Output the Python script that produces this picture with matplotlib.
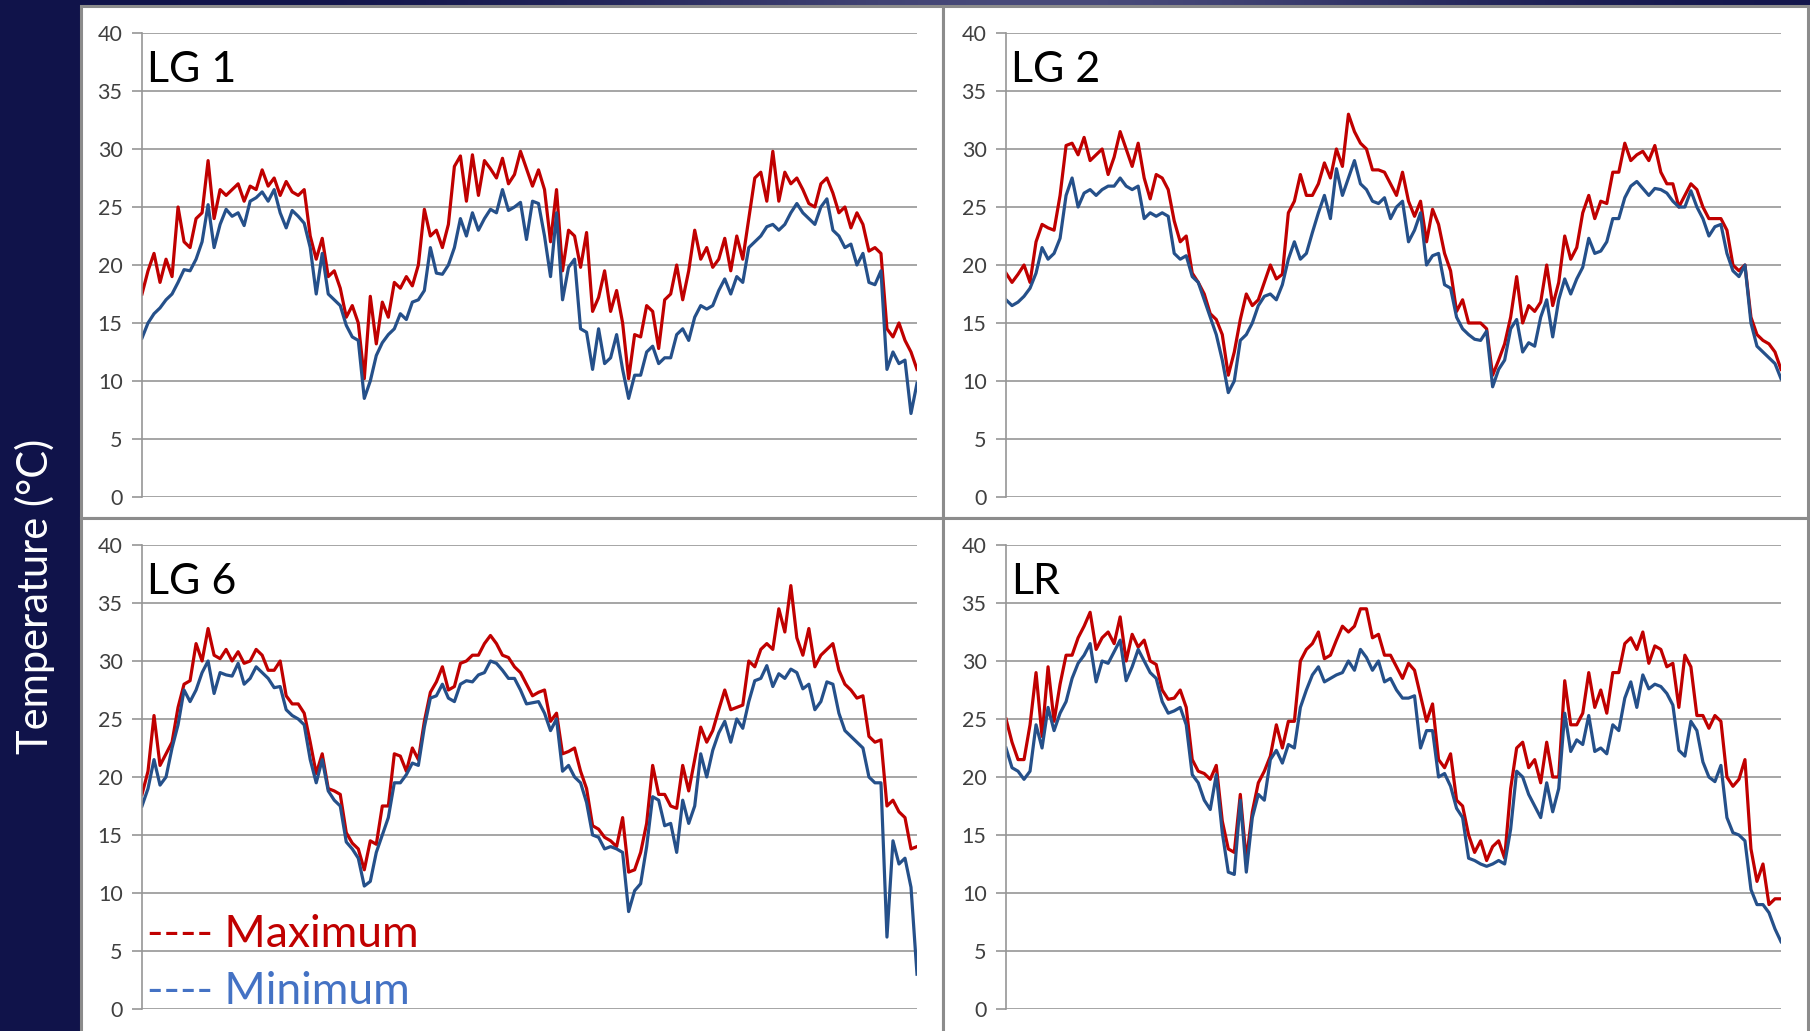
import numpy as np
import matplotlib
matplotlib.use("Agg")
import matplotlib.pyplot as plt
from matplotlib.patches import Rectangle

# daily maximum / minimum temperatures (°C) per site
lg1_max = [17.5, 19.5, 21, 18.5, 20.5, 19, 25, 22, 21.5, 24,
           24.5, 29, 24, 26.5, 26, 26.5, 27, 25.5, 26.8, 26.5,
           28.2, 26.8, 27.5, 26, 27.2, 26.3, 26, 26.5, 22.5, 20.5,
           22.3, 19, 19.5, 18, 15.5, 16.5, 15, 10.2, 17.3, 13.2,
           16.8, 15.5, 18.5, 18, 19, 18.2, 20, 24.8, 22.5, 23,
           21.5, 23.5, 28.5, 29.4, 25.5, 29.5, 26, 29, 28.3, 27.5,
           29.2, 27, 27.8, 29.8, 28.3, 26.8, 28.2, 26.5, 22, 26.5,
           19.5, 23, 22.5, 19.8, 22.8, 16, 17.2, 19.5, 16, 17.8,
           15, 10.2, 14, 13.8, 16.5, 16, 12.8, 17, 17.5, 20,
           17, 19.5, 23, 20.5, 21.5, 19.8, 20.5, 22.3, 19.5, 22.5,
           20.5, 24, 27.5, 28, 25.5, 29.8, 25.5, 28, 27, 27.5,
           26.5, 25.3, 25, 27, 27.5, 26.2, 24.5, 25, 23.2, 24.5,
           23.5, 21.2, 21.5, 21, 14.5, 13.8, 15, 13.5, 12.5, 11]
lg1_min = [13.7, 15, 15.8, 16.3, 17, 17.5, 18.5, 19.6, 19.5, 20.5,
           22, 25.2, 21.5, 23.5, 24.8, 24.2, 24.5, 23.4, 25.5, 25.8,
           26.3, 25.5, 26.5, 24.5, 23.2, 24.7, 24.2, 23.6, 21.5, 17.5,
           21, 17.5, 17, 16.5, 14.8, 13.8, 13.5, 8.5, 10, 12.2,
           13.3, 14, 14.5, 15.8, 15.3, 16.8, 17, 17.8, 21.5, 19.3,
           19.2, 20, 21.5, 24, 22.5, 24.5, 23, 24, 24.8, 24.5,
           26.5, 24.7, 25, 25.4, 22.2, 25.5, 25.3, 22.5, 19, 24.5,
           17, 19.8, 20.5, 14.5, 14.2, 11, 14.5, 11.5, 12, 14,
           11, 8.5, 10.5, 10.5, 12.5, 13, 11.5, 12, 12, 14,
           14.5, 13.5, 15.5, 16.5, 16.2, 16.5, 17.8, 18.8, 17.5, 19,
           18.5, 21.5, 22, 22.5, 23.3, 23.5, 23, 23.5, 24.5, 25.3,
           24.5, 24, 23.5, 25, 25.7, 23, 22.5, 21.5, 21.8, 20,
           21, 18.5, 18.3, 19.5, 11, 12.5, 11.5, 11.8, 7.2, 9.8]

lg2_max = [19.3, 18.5, 19.2, 20, 18.5, 22, 23.5, 23.2, 23, 26,
           30.3, 30.5, 29.5, 31, 29, 29.5, 30, 27.8, 29.3, 31.5,
           30, 28.5, 30.5, 27.5, 25.7, 27.8, 27.5, 26.5, 23.8, 22,
           22.5, 19.3, 18.5, 17.5, 15.8, 15.3, 14, 10.5, 12.5, 15.3,
           17.5, 16.5, 17, 18.5, 20, 18.8, 19.2, 24.5, 25.5, 27.8,
           26, 26, 27, 28.8, 27.5, 30, 28.5, 33, 31.5, 30.5,
           30, 28.2, 28.2, 28, 27, 26, 28, 25.5, 24.2, 25.5,
           22, 24.8, 23.5, 21, 19.5, 16, 17, 15, 15, 15,
           14.5, 10.5, 11.8, 13.2, 15.5, 19, 15, 16.5, 16, 16.8,
           20, 16.5, 18.5, 22.5, 20.5, 21.5, 24.5, 26, 24, 25.5,
           25.3, 28, 28, 30.5, 29, 29.5, 29.8, 29, 30.3, 28,
           27, 27, 25, 26, 27, 26.5, 25, 24, 24, 24,
           23, 20, 19.5, 20, 15.5, 14, 13.5, 13.2, 12.5, 11]
lg2_min = [17, 16.5, 16.8, 17.3, 18, 19.3, 21.5, 20.5, 21, 22.3,
           26, 27.5, 25, 26.2, 26.5, 26, 26.5, 26.8, 26.8, 27.5,
           26.8, 26.5, 26.8, 24, 24.5, 24.2, 24.5, 24.2, 21, 20.5,
           20.8, 19, 18.5, 17, 15.5, 14, 11.8, 9, 10, 13.5,
           14, 15, 16.5, 17.3, 17.5, 17, 18.3, 20.5, 22, 20.5,
           21, 22.8, 24.5, 26, 24, 28.3, 26, 27.5, 29, 27,
           26.5, 25.5, 25.3, 25.8, 24, 25, 25.5, 22, 23, 24.5,
           20, 20.8, 21, 18.3, 18, 15.5, 14.5, 14, 13.6, 13.5,
           14.3, 9.5, 11, 11.8, 14.5, 15.3, 12.5, 13.3, 13, 15.5,
           17, 13.8, 17, 18.8, 17.5, 18.8, 19.8, 22.3, 21, 21.2,
           22, 24, 24, 25.8, 26.8, 27.2, 26.6, 26, 26.6, 26.5,
           26.2, 25.5, 25, 25, 26.4, 25, 24, 22.5, 23.3, 23.5,
           21, 19.5, 19, 20, 15, 13, 12.5, 12, 11.5, 10.2]

lg6_max = [18.5, 20.5, 25.3, 21, 22, 23, 26, 28, 28.3, 31.5,
           30, 32.8, 30.5, 30.2, 31, 30, 30.8, 29.8, 30, 31,
           30.5, 29.2, 29.2, 30, 27, 26.3, 26.3, 25.5, 23, 20.3,
           22, 19, 18.8, 18.5, 15.2, 14.3, 13.8, 12, 14.5, 14.2,
           17.5, 17.5, 22, 21.8, 20.5, 22.5, 21.5, 24.8, 27.3, 28.2,
           29.5, 27.5, 27.8, 29.8, 30, 30.5, 30.5, 31.5, 32.2, 31.5,
           30.5, 30.3, 29.5, 29, 28, 27, 27.3, 27.5, 24.8, 25.5,
           22, 22.2, 22.5, 20.5, 19, 15.8, 15.5, 14.8, 14.5, 14,
           16.5, 11.8, 12, 13.5, 16, 21, 18.5, 18.5, 17.5, 17.3,
           21, 18.8, 21.5, 24.3, 23, 24, 25.8, 27.5, 25.8, 26,
           26.2, 30, 29.5, 31, 31.5, 31, 34.5, 32.5, 36.5, 32,
           30.5, 32.8, 29.5, 30.5, 31, 31.5, 29.2, 28, 27.5, 26.8,
           27, 23.5, 23, 23.2, 17.5, 18, 17, 16.5, 13.8, 14]
lg6_min = [17.5, 19, 21.5, 19.3, 20, 22.5, 24.5, 27.5, 26.5, 27.5,
           29, 30, 27.2, 29, 28.8, 28.7, 29.8, 28, 28.5, 29.5,
           29, 28.5, 27.7, 27.8, 25.8, 25.3, 25, 24.5, 21.5, 19.5,
           21.5, 18.8, 18, 17.5, 14.4, 13.8, 13, 10.6, 11, 13.5,
           15, 16.5, 19.5, 19.5, 20.2, 21.2, 21, 24.3, 26.8, 27,
           28, 26.8, 26.5, 28, 28.3, 28.2, 28.8, 29, 30, 29.8,
           29.2, 28.5, 28.5, 27.5, 26.3, 26.4, 26.5, 25.5, 24, 25,
           20.5, 21, 20, 19.5, 17.8, 15, 14.8, 13.8, 14, 13.8,
           13.5, 8.4, 10.2, 10.8, 14, 18.3, 18, 15.8, 16, 13.5,
           18, 16, 17.5, 22, 20, 22.3, 23.8, 24.8, 23, 25,
           24.2, 26.5, 28.3, 28.5, 29.6, 27.8, 28.9, 28.5, 29.3, 29,
           27.6, 28, 25.8, 26.5, 28.2, 28, 25.5, 24, 23.5, 23,
           22.5, 20, 19.5, 19.5, 6.2, 14.5, 12.5, 13, 10.5, 3]

lr_max = [25, 23, 21.5, 21.5, 24.5, 29, 23.5, 29.5, 24.8, 28,
          30.5, 30.5, 32, 33, 34.2, 31, 32, 32.5, 31.5, 33.8,
          30, 32.3, 31.2, 31.8, 30, 29.7, 27.5, 26.7, 26.8, 27.5,
          26, 21.5, 20.5, 20.3, 19.8, 21, 16.2, 13.8, 13.5, 18.5,
          12.8, 17, 19.5, 20.5, 21.8, 24.5, 22.5, 24.8, 24.8, 30,
          31, 31.5, 32.5, 30.2, 30.5, 31.8, 33, 32.5, 33, 34.5,
          34.5, 32, 32.3, 30.5, 30.5, 29.5, 28.5, 29.8, 29.2, 27,
          24.8, 26.3, 21.5, 20.8, 22, 18, 17.5, 15, 13.5, 14.5,
          12.8, 14, 14.5, 13, 19, 22.5, 23, 20.8, 21.5, 19.5,
          23, 20, 20, 28.3, 24.5, 24.5, 25.5, 29, 26, 27.5,
          25.5, 29, 29, 31.5, 32, 31, 32.5, 29.8, 31.3, 31,
          29.5, 29.8, 26, 30.5, 29.5, 25.3, 25.3, 24.2, 25.3, 24.8,
          20, 19.2, 19.8, 21.5, 13.8, 11, 12.5, 9, 9.5, 9.5]
lr_min = [22.5, 20.8, 20.5, 19.8, 20.5, 24.5, 22.5, 26, 24, 25.5,
          26.5, 28.5, 29.8, 30.5, 31.5, 28.2, 30, 29.8, 30.8, 31.8,
          28.3, 29.5, 31, 30, 29, 28.5, 26.5, 25.5, 25.7, 26,
          24.5, 20.2, 19.5, 18, 17.2, 20.2, 15.2, 11.8, 11.6, 18,
          11.8, 16.5, 18.5, 18, 21.5, 22.3, 21.2, 22.8, 22.5, 26,
          27.5, 28.8, 29.5, 28.2, 28.5, 28.8, 29, 30, 29.2, 31,
          30.3, 29.2, 30, 28.2, 28.5, 27.5, 26.8, 26.8, 27, 22.5,
          24, 24, 20, 20.3, 19.2, 17.3, 16.5, 13, 12.8, 12.5,
          12.3, 12.5, 12.8, 12.5, 15.5, 20.5, 20, 18.5, 17.5, 16.5,
          19.5, 17, 19, 25.5, 22.2, 23.2, 22.8, 25.3, 22.2, 22.5,
          22, 24.5, 24, 26.8, 28.2, 26, 28.8, 27.6, 28, 27.8,
          27.2, 26.2, 22.3, 21.8, 24.8, 24, 21.3, 20, 19.6, 21,
          16.5, 15.2, 15, 14.5, 10.3, 9, 9, 8.3, 6.9, 5.8]

site_names = ["LG 1", "LG 2", "LG 6", "LR"]
site_max = [lg1_max, lg2_max, lg6_max, lr_max]
site_min = [lg1_min, lg2_min, lg6_min, lr_min]
y_ticks = [0, 5, 10, 15, 20, 25, 30, 35, 40]

RED = "#c00000"
BLUE = "#25508a"
GRID = "#969696"

plt.rcParams["font.family"] = ["Lato", "DejaVu Sans"]

W, H = 1810, 1031
fig = plt.figure(figsize=(W / 100, H / 100), dpi=100)

# slide background: dark navy, a little lighter towards the middle of the top edge
bg = fig.add_axes([0, 0, 1, 1], zorder=-10)
xs = np.linspace(0, 1, 600)
t = np.exp(-((xs - 0.58) / 0.24) ** 2)[None, :, None]
dark = np.array([16, 19, 74]) / 255
light = np.array([72, 74, 122]) / 255
bg.imshow(dark * (1 - t) + light * t, aspect="auto", extent=[0, 1, 0, 1])
bg.set_axis_off()


def box(x0, y0, x1, y1):
    # white chart area, given in pixels from the top-left corner
    fig.patches.append(Rectangle((x0 / W, 1 - y1 / H), (x1 - x0) / W, (y1 - y0) / H,
                                 transform=fig.transFigure, facecolor="white",
                                 edgecolor="#8c8c8c", lw=2.2, zorder=-5))


box(81, 6, 943, 518)
box(943, 6, 1808, 518)
box(81, 518, 943, 1036)
box(943, 518, 1808, 1036)

origins = [(142, 33), (1006, 33), (142, 545), (1006, 545)]
pw, ph = 775, 464

for (px, py), name, hi, lo in zip(origins, site_names, site_max, site_min):
    ax = fig.add_axes([px / W, 1 - (py + ph) / H, pw / W, ph / H])
    ax.set_facecolor("none")
    days = np.arange(len(hi))
    ax.plot(days, hi, color=RED, lw=2.3, solid_joinstyle="round")
    ax.plot(days, lo, color=BLUE, lw=2.3, solid_joinstyle="round")
    ax.set_xlim(0, len(hi) - 1)
    ax.set_ylim(0, 40)
    ax.set_yticks(y_ticks)
    ax.set_xticks([])
    ax.set_axisbelow(True)
    ax.yaxis.grid(True, color=GRID, lw=1.2)
    for s in ["top", "right", "bottom"]:
        ax.spines[s].set_visible(False)
    ax.spines["left"].set_color(GRID)
    ax.spines["left"].set_linewidth(1.2)
    ax.tick_params(axis="y", length=7, width=1.2, color=GRID, pad=7,
                   labelsize=15.5, labelcolor="#404040")
    ax.text(0.006, 35.8, name, transform=ax.get_yaxis_transform(),
            fontsize=31, va="baseline", color="black")
    if name == "LG 6":
        ax.text(0.006, 5.35, "---- Maximum", transform=ax.get_yaxis_transform(),
                fontsize=32, va="baseline", color=RED)
        ax.text(0.006, 0.45, "---- Minimum", transform=ax.get_yaxis_transform(),
                fontsize=32, va="baseline", color="#4472c4")

fig.text(35 / W, 1 - 596 / H, "Temperature (°C)", rotation=90, color="white",
         fontsize=30, ha="center", va="center")

fig.savefig("out.png", dpi=100)
